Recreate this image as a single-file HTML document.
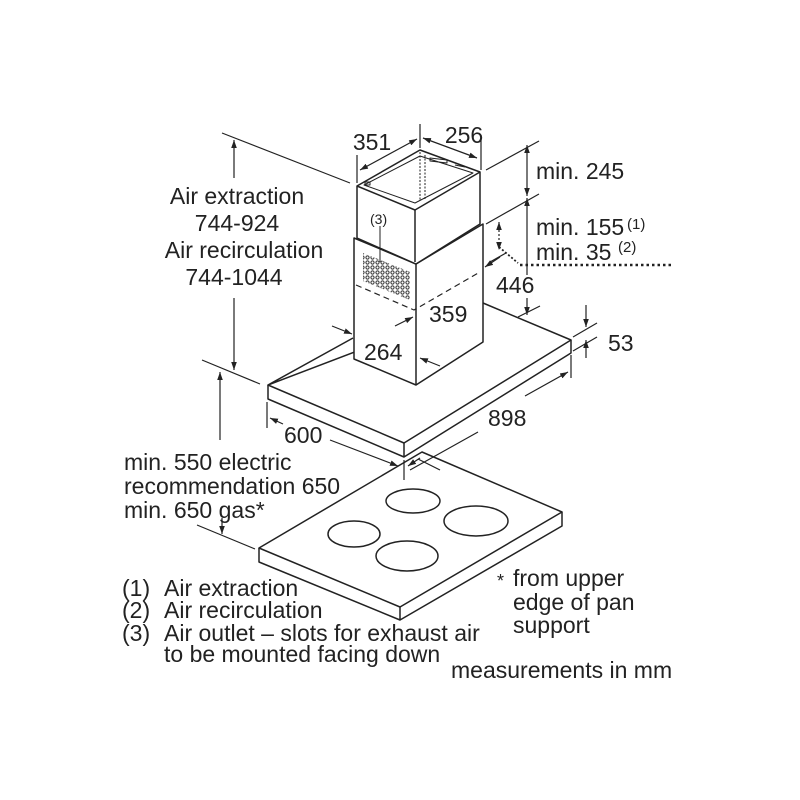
<!DOCTYPE html>
<html><head><meta charset="utf-8"><style>
html,body{margin:0;padding:0;background:#fff;}
svg{display:block;}
text{font-family:"Liberation Sans",Arial,sans-serif;fill:#222;}
</style></head><body>
<svg width="800" height="800" viewBox="0 0 800 800" xmlns="http://www.w3.org/2000/svg">
<defs>
<marker id="a" viewBox="0 0 10 10" refX="10" refY="5" markerWidth="8" markerHeight="8" orient="auto-start-reverse" markerUnits="userSpaceOnUse"><path d="M0,1.5 L10,5 L0,8.5 z" fill="#222"/></marker>
<pattern id="g" width="5" height="5" patternUnits="userSpaceOnUse"><circle cx="2.5" cy="2.5" r="1.6" fill="none" stroke="#333" stroke-width="1"/></pattern>
</defs>
<g stroke="#222" stroke-width="1.5" fill="none" stroke-linejoin="round">
<path d="M268,385 L353,338 M483,303 L571,340 L404,443 L268,385 Z" fill="#fff"/>
<path d="M268,385 L268,399 L404,457 L571,353 L571,340 M404,443 L404,457"/>
<path d="M354,238 L416,264 L483,224 L483,342 L416,385 L354,359 Z" fill="#fff"/>
<path d="M416,264 L416,385"/>
<path d="M357,186 L415,210 L480,172 L480,224 L416,264 L357,238 Z" fill="#fff"/>
<path d="M415,210 L415,262"/>
<path d="M357,186 L420,150 L480,172" />
<path d="M364,185 L420,156 L473,173 L415,203 Z" stroke-width="1"/>
<path d="M420,152 L420,200 M425,155 L425,200" stroke-width="1" stroke-dasharray="2,1.5"/>
<rect x="365" y="182" width="5" height="3" stroke-width="1"/>
<path d="M430,158 L447,160 L447,163 L430,161 Z M455,165 L465,167" stroke-width="1"/>
<path d="M363,253 L410,272 L410,300 L363,281 Z" fill="url(#g)" stroke="none"/>
<path d="M356,285 L414,310 L480,272" stroke-dasharray="6,4" stroke-width="1.2"/>
<path d="M380,226 L380,262" stroke-width="1"/>
<path d="M259,548 L422,452 L562,512 L400,607 Z" fill="#fff"/>
<path d="M259,548 L259,562 L400,620 L562,526 L562,512 M400,607 L400,620"/>
<ellipse cx="413" cy="501" rx="27" ry="12"/>
<ellipse cx="476" cy="521" rx="32" ry="15"/>
<ellipse cx="354" cy="534" rx="26" ry="13"/>
<ellipse cx="407" cy="556" rx="31" ry="15"/>
</g>
<g stroke="#222" stroke-width="1.2" fill="none">
<line x1="222" y1="133" x2="350" y2="183"/>
<line x1="234" y1="178" x2="234" y2="140" marker-end="url(#a)"/>
<line x1="234" y1="298" x2="234" y2="370" marker-end="url(#a)"/>
<line x1="202" y1="360" x2="260" y2="384"/>
<line x1="220" y1="440" x2="220" y2="372" marker-end="url(#a)"/>
<line x1="197" y1="525" x2="255" y2="549"/>
<line x1="222" y1="518" x2="222" y2="534" marker-end="url(#a)"/>
<line x1="357" y1="183" x2="357" y2="155"/>
<line x1="420" y1="148" x2="420" y2="124"/>
<line x1="481" y1="170" x2="481" y2="140"/>
<line x1="360" y1="170" x2="417" y2="139" marker-start="url(#a)" marker-end="url(#a)"/>
<line x1="423" y1="138" x2="477" y2="158" marker-start="url(#a)" marker-end="url(#a)"/>
<line x1="486" y1="170" x2="539" y2="141"/>
<line x1="486" y1="224" x2="539" y2="194"/>
<line x1="527" y1="145" x2="527" y2="196" marker-start="url(#a)" marker-end="url(#a)"/>
<line x1="527" y1="275" x2="527" y2="198" marker-end="url(#a)"/>
<line x1="527" y1="298" x2="527" y2="315" marker-end="url(#a)"/>
<line x1="518" y1="317" x2="540" y2="306"/>
<line x1="499" y1="222" x2="499" y2="250" stroke-dasharray="2,2" marker-start="url(#a)" marker-end="url(#a)"/>
<path d="M499,247 L518,263" stroke-dasharray="2,2" stroke-width="1.8"/>
<line x1="520" y1="265" x2="672" y2="265" stroke-dasharray="2.5,3" stroke-width="2.5"/>
<line x1="490" y1="262" x2="506" y2="253"/>
<line x1="500" y1="257" x2="485" y2="267" marker-end="url(#a)"/>
<line x1="573" y1="337" x2="597" y2="323"/>
<line x1="573" y1="351" x2="597" y2="337"/>
<line x1="586" y1="305" x2="586" y2="327" marker-end="url(#a)"/>
<line x1="586" y1="358" x2="586" y2="340" marker-end="url(#a)"/>
<line x1="571" y1="355" x2="571" y2="378"/>
<line x1="525" y1="396" x2="568" y2="372" marker-end="url(#a)"/>
<line x1="410" y1="470" x2="478" y2="432"/>
<line x1="404" y1="460" x2="404" y2="480"/>
<line x1="420" y1="458" x2="408" y2="466" marker-end="url(#a)"/>
<line x1="267" y1="402" x2="267" y2="428"/>
<line x1="283" y1="424" x2="270" y2="418" marker-end="url(#a)"/>
<line x1="330" y1="440" x2="398" y2="466" marker-end="url(#a)"/>
<line x1="395" y1="326" x2="413" y2="317" marker-end="url(#a)"/>
<line x1="332" y1="326" x2="352" y2="334" marker-end="url(#a)"/>
<line x1="440" y1="366" x2="420" y2="358" marker-end="url(#a)"/>
<line x1="418" y1="459" x2="440" y2="470"/>
</g>
<g font-size="23" text-anchor="middle">
<text x="237" y="204">Air extraction</text>
<text x="237" y="231">744-924</text>
<text x="244" y="258">Air recirculation</text>
<text x="234" y="285">744-1044</text>
<text x="372" y="150">351</text>
<text x="464" y="143">256</text>
</g>
<g font-size="23">
<text x="536" y="179">min. 245</text>
<text x="536" y="235">min. 155</text>
<text x="536" y="260">min. 35</text>
<text x="627" y="229" font-size="15">(1)</text>
<text x="618" y="252" font-size="15">(2)</text>
<text x="496" y="293">446</text>
<text x="429" y="322">359</text>
<text x="364" y="360">264</text>
<text x="608" y="351">53</text>
<text x="488" y="426">898</text>
<text x="284" y="443">600</text>
<text x="124" y="470">min. 550 electric</text>
<text x="124" y="494">recommendation 650</text>
<text x="124" y="518">min. 650 gas*</text>
<text x="122" y="596">(1)</text><text x="164" y="596">Air extraction</text>
<text x="122" y="618">(2)</text><text x="164" y="618">Air recirculation</text>
<text x="122" y="641">(3)</text><text x="164" y="641">Air outlet – slots for exhaust air</text>
<text x="164" y="662">to be mounted facing down</text>
<text x="497" y="587" font-size="18">*</text>
<text x="513" y="586">from upper</text>
<text x="513" y="610">edge of pan</text>
<text x="513" y="633">support</text>
<text x="451" y="678">measurements in mm</text>
<text x="370" y="224" font-size="14">(3)</text>
</g>
</svg>
</body></html>
